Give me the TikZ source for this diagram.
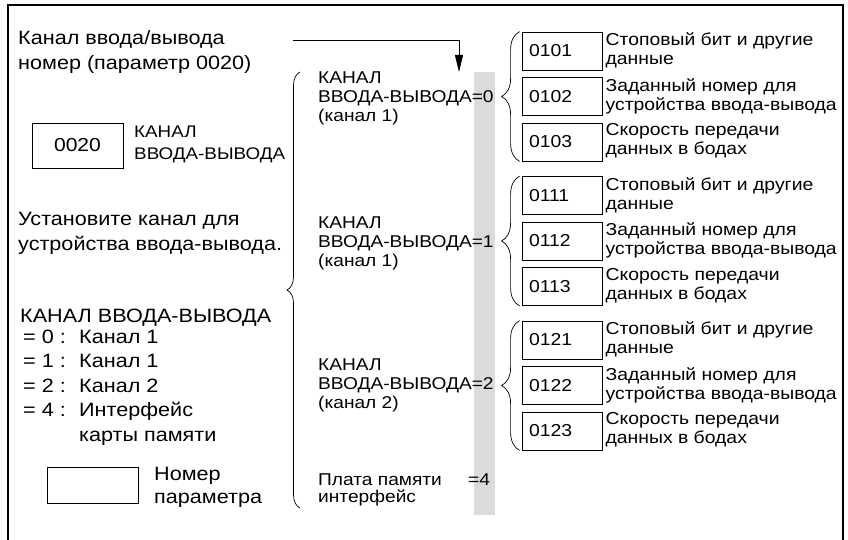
\documentclass[tikz,border=0pt]{standalone}
\usepackage{fontspec}
\setmainfont{Liberation Sans}[FakeStretch=1.12]
\usetikzlibrary{arrows.meta,decorations.pathreplacing}

\begin{document}
\begin{tikzpicture}[x=1pt, y=-1pt, >={Triangle[length=17pt,width=8pt]},
      big/.style={font=\fontsize{19.3}{24.5}\selectfont, align=left, anchor=base west, inner sep=0pt},
      mid/.style={font=\fontsize{17.1}{19}\selectfont, align=left, anchor=base west, inner sep=0pt},
      txt/.style={font=\fontsize{17.3}{19}\selectfont, align=left, anchor=north west, inner sep=0pt},
      par/.style={draw, line width=0.8pt, minimum height=38pt, text width=66pt, inner xsep=7pt, align=left, font=\fontsize{17.3}{20}\selectfont},
      brc/.style={decorate, decoration={brace, amplitude=#1}, line width=0.7pt}]
      \useasboundingbox (0,0) rectangle (848,540);
      \draw[line width=2.5pt] (8,548) -- (8,5) -- (843,5) -- (843,548);
      \fill[black!14] (474,72) rectangle (495,515);
      % left column
      \node[big] (title) at (18,69.5) {Канал ввода/вывода\\номер (параметр 0020)};
      \node[draw, line width=0.8pt, minimum width=91pt, minimum height=45pt, font=\fontsize{18.8}{22}\selectfont] (p0020) at (77.5,145.5) {0020};
      \node[mid, font=\fontsize{16.8}{22}\selectfont] (chname) at (134,160) {КАНАЛ\\ВВОДА-ВЫВОДА};
      \node[big, font=\fontsize{19.3}{25}\selectfont] (setch) at (18,250) {Установите канал для\\устройства ввода-вывода.};
      \node[big] (chhead) at (20,322) {КАНАЛ ВВОДА-ВЫВОДА};
      \node[big] (cheq) at (23,416.5) {= 0 :\\= 1 :\\= 2 :\\= 4 :};
      \node[big] (chval) at (79,441) {Канал 1\\Канал 1\\Канал 2\\Интерфейс\\карты памяти};
      \node[draw, line width=0.8pt, minimum width=91pt, minimum height=36pt] (legend) at (92.5,485) {};
      \node[big, font=\fontsize{19.3}{23}\selectfont] (legtxt) at (154,503) {Номер\\параметра};
      % middle column
      \node[mid] (ch0) at (318,122) {КАНАЛ\\ВВОДА-ВЫВОДА=0\\(канал 1)};
      \node[mid] (ch1) at (318,266) {КАНАЛ\\ВВОДА-ВЫВОДА=1\\(канал 1)};
      \node[mid] (ch2) at (318,408) {КАНАЛ\\ВВОДА-ВЫВОДА=2\\(канал 2)};
      \node[mid, font=\fontsize{17.1}{17}\selectfont] (card) at (318,502) {Плата памяти\\интерфейс};
      \node[mid] (card4) at (468,485) {=4};
      \coordinate (bigtop) at (300,72);
      \coordinate (bigbot) at (300,508);
      \draw[brc=13pt] (bigbot) -- (bigtop);
      \coordinate (astart) at (293,40);
      \coordinate (aend) at (459,72);
      \draw[->, line width=0.8pt] (astart) -| (aend);
      % parameter boxes
      \node[par] (b0101) at (562,51) {0101};
      \node[par] (b0102) at (562,96.5) {0102};
      \node[par] (b0103) at (562,142) {0103};
      \node[par] (b0111) at (562,195.5) {0111};
      \node[par] (b0112) at (562,241) {0112};
      \node[par] (b0113) at (562,286.5) {0113};
      \node[par] (b0121) at (562,340) {0121};
      \node[par] (b0122) at (562,385.5) {0122};
      \node[par] (b0123) at (562,431) {0123};
      \node[txt] (t0101) at ([xshift=3pt,yshift=-1pt]b0101.north east) {Стоповый бит и другие\\данные};
      \node[txt] (t0102) at ([xshift=3pt,yshift=-1pt]b0102.north east) {Заданный номер для\\устройства ввода-вывода};
      \node[txt] (t0103) at ([xshift=3pt,yshift=-1pt]b0103.north east) {Скорость передачи\\данных в бодах};
      \node[txt] (t0111) at ([xshift=3pt,yshift=-1pt]b0111.north east) {Стоповый бит и другие\\данные};
      \node[txt] (t0112) at ([xshift=3pt,yshift=-1pt]b0112.north east) {Заданный номер для\\устройства ввода-вывода};
      \node[txt] (t0113) at ([xshift=3pt,yshift=-1pt]b0113.north east) {Скорость передачи\\данных в бодах};
      \node[txt] (t0121) at ([xshift=3pt,yshift=-1pt]b0121.north east) {Стоповый бит и другие\\данные};
      \node[txt] (t0122) at ([xshift=3pt,yshift=-1pt]b0122.north east) {Заданный номер для\\устройства ввода-вывода};
      \node[txt] (t0123) at ([xshift=3pt,yshift=-1pt]b0123.north east) {Скорость передачи\\данных в бодах};
      \draw[brc=18pt] ([xshift=-2pt]b0103.south west) -- ([xshift=-2pt]b0101.north west);
      \draw[brc=18pt] ([xshift=-2pt]b0113.south west) -- ([xshift=-2pt]b0111.north west);
      \draw[brc=18pt] ([xshift=-2pt]b0123.south west) -- ([xshift=-2pt]b0121.north west);
\end{tikzpicture}
\end{document}
